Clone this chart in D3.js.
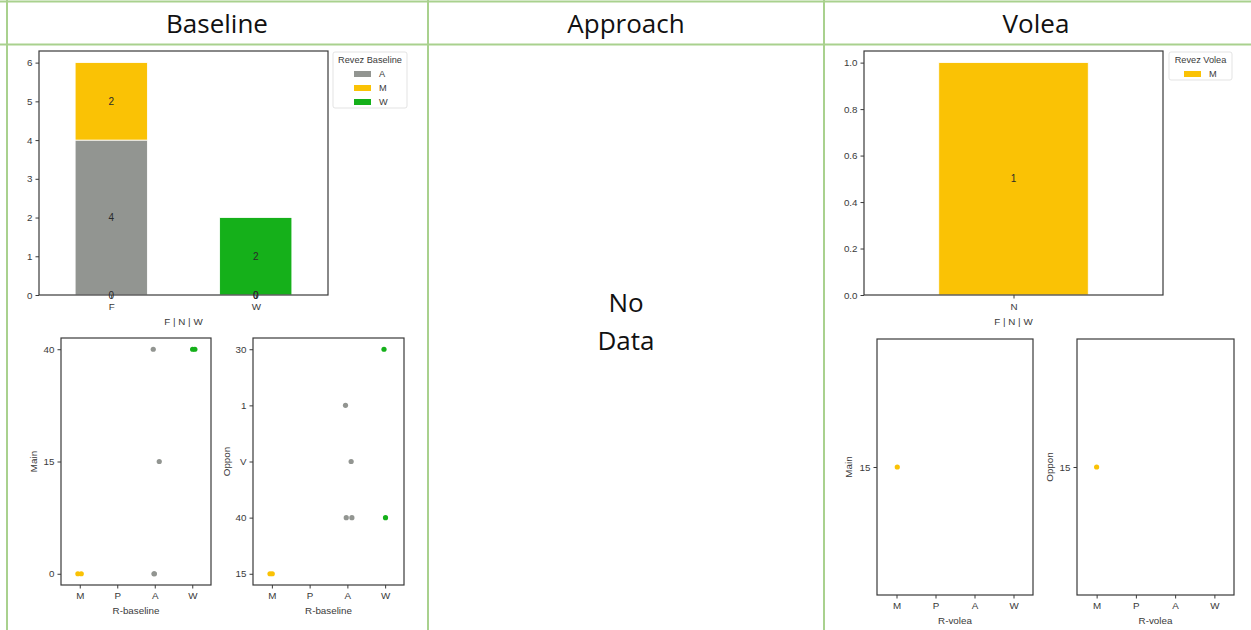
<!DOCTYPE html>
<html>
<head>
<meta charset="utf-8">
<script src="https://cdn.jsdelivr.net/npm/d3@7"></script>
<style>
  html, body { margin: 0; padding: 0; background: #fff; }
  svg { display: block; }
</style>
</head>
<body>
<svg id="chart" width="1251" height="630"></svg>
<script>
// ---------------- DATA ----------------
const columnTitles = ["Baseline", "Approach", "Volea"];
const noDataText = ["No", "Data"];

// Baseline stacked bar
const baselineCats = ["F", "W"];
const baselineSeries = ["A", "M", "W"];
const baselineA = [4, 0];
const baselineM = [2, 0];
const baselineW = [0, 2];
const baselineYTicks = [0, 1, 2, 3, 4, 5, 6];

// Volea bar
const voleaCats = ["N"];
const voleaSeries = ["M"];
const voleaM = [1];
const voleaYTicks = [0, 0.2, 0.4, 0.6, 0.8, 1.0];

// Scatter categories
const rCats = ["M", "P", "A", "W"];
const baseMainCats = ["0", "15", "40"];
const baseOpponCats = ["15", "40", "V", "1", "30"];
const voleaMainCats = ["15"];
const voleaOpponCats = ["15"];

// Baseline points (R-baseline, Main, Oppon) + jitter
const baseR      = ["M", "M", "A", "A", "A", "A", "W", "W"];
const baseMain   = ["0", "0", "40", "15", "0", "0", "40", "40"];
const baseOppon  = ["15", "15", "1", "V", "40", "40", "30", "40"];
const baseMainJit  = [-0.05, 0.04, -0.04, 0.12, -0.02, -0.01, 0.01, 0.07];
const baseOpponJit = [-0.05, 0.01, -0.05, 0.10, -0.03, 0.12, -0.03, 0.01];

// Volea points
const voleaR = ["M"];
const voleaMain = ["15"];
const voleaOppon = ["15"];
const voleaMainJit = [0.02];
const voleaOpponJit = [0.0];

// ---------------- STYLE ----------------
const colors = { A: "#929591", M: "#fac205", W: "#15b01a" };
const gridGreen = "#a9d18e";
const axisColor = "#3a3a3a";
const textColor = "#3a3a3a";
const FONT = "'Liberation Sans', Arial, sans-serif";
const HFONT = "'Open Sans', 'Noto Sans', sans-serif";
const HSIZE = 26;

const svg = d3.select("#chart");

// ---------------- TABLE ----------------
const colX = [7, 428, 824, 1260];
const titleX = [217, 626, 1036];
const headerTop = 1.5, headerBottom = 44.5;
const table = svg.append("g");
[headerTop, headerBottom].forEach(y => table.append("line")
  .attr("x1", 0).attr("x2", 1251).attr("y1", y).attr("y2", y)
  .attr("stroke", gridGreen).attr("stroke-width", 2));
colX.forEach(x => table.append("line")
  .attr("x1", x).attr("x2", x).attr("y1", 0).attr("y2", 630)
  .attr("stroke", gridGreen).attr("stroke-width", 2));
columnTitles.forEach((t, i) => table.append("text")
  .attr("x", titleX[i]).attr("y", 23).attr("text-anchor", "middle").attr("dominant-baseline", "central")
  .attr("font-family", HFONT).attr("font-size", HSIZE).attr("fill", "#111").text(t));
noDataText.forEach((t, i) => table.append("text")
  .attr("x", 626).attr("y", 302 + i * 38).attr("text-anchor", "middle")
  .attr("dominant-baseline", "central")
  .attr("font-family", HFONT).attr("font-size", HSIZE).attr("fill", "#111").text(t));

// ---------------- HELPERS ----------------
function frame(g, x0, x1, y0, y1) {
  g.append("rect").attr("x", x0).attr("y", y0).attr("width", x1 - x0).attr("height", y1 - y0)
    .attr("fill", "none").attr("stroke", axisColor).attr("stroke-width", 1.2);
}
function styleAxis(sel) {
  sel.select(".domain").remove();
  sel.selectAll(".tick line").attr("stroke", axisColor).attr("stroke-width", 1);
  sel.selectAll(".tick text").attr("fill", textColor).attr("font-family", FONT).attr("font-size", 9.8);
}

function stackedBar(opts) {
  const { x0, x1, y0, y1, cats, series, values, yMax, yTicks, fmt, xlabel, legend } = opts;
  const g = svg.append("g");
  const x = d3.scaleLinear().domain([-0.5, cats.length - 0.5]).range([x0, x1]);
  const y = d3.scaleLinear().domain([0, yMax]).range([y1, y0]);
  const rows = cats.map((c, i) => {
    const o = { cat: c, idx: i };
    series.forEach((s, k) => o[s] = values[k][i]);
    return o;
  });
  const stack = d3.stack().keys(series)(rows);
  stack.forEach(layer => {
    g.selectAll(null).data(layer).join("rect")
      .attr("x", d => x(d.data.idx - 0.25))
      .attr("width", d => x(0.5) - x(0))
      .attr("y", d => y(d[1]))
      .attr("height", d => y(d[0]) - y(d[1]))
      .attr("fill", colors[layer.key])
      .attr("stroke", "#fff").attr("stroke-width", 0.8);
  });
  frame(g, x0, x1, y0, y1);
  const ya = g.append("g").attr("transform", `translate(${x0},0)`)
    .call(d3.axisLeft(y).tickValues(yTicks).tickFormat(fmt).tickSize(3.5).tickPadding(3));
  styleAxis(ya);
  const xa = g.append("g").attr("transform", `translate(0,${y1})`)
    .call(d3.axisBottom(x).tickValues(cats.map((c, i) => i)).tickFormat(i => cats[i]).tickSize(3.5).tickPadding(5));
  styleAxis(xa);
  g.append("text").attr("x", (x0 + x1) / 2).attr("y", y1 + 26).attr("text-anchor", "middle")
    .attr("dominant-baseline", "central").attr("font-family", FONT).attr("font-size", 9.8)
    .attr("fill", textColor).text(xlabel);
  // segment labels (zero-height segments are labelled at the baseline)
  stack.forEach(layer => {
    layer.forEach(d => {
      const v = d[1] - d[0];
      const yy = v > 0 ? (d[0] + d[1]) / 2 : 0;
      g.append("text").attr("x", x(d.data.idx)).attr("y", y(yy))
        .attr("text-anchor", "middle").attr("dominant-baseline", "central")
        .attr("font-family", FONT).attr("font-size", 10).attr("fill", "#2a2a2a").text(v);
    });
  });
  // legend
  const lg = g.append("g");
  lg.append("rect").attr("x", legend.x).attr("y", legend.y).attr("width", legend.w)
    .attr("height", 14 + series.length * 14).attr("rx", 2)
    .attr("fill", "#fff").attr("stroke", "#dcdcdc").attr("stroke-width", 0.8);
  lg.append("text").attr("x", legend.x + legend.w / 2).attr("y", legend.y + 8).attr("text-anchor", "middle")
    .attr("dominant-baseline", "central").attr("font-family", FONT).attr("font-size", 9.2)
    .attr("fill", textColor).text(legend.title);
  series.forEach((s, k) => {
    const cy = legend.y + 22 + k * 14;
    lg.append("rect").attr("x", legend.px).attr("y", cy - 3).attr("width", 17).attr("height", 6)
      .attr("fill", colors[s]);
    lg.append("text").attr("x", legend.px + 25).attr("y", cy).attr("dominant-baseline", "central")
      .attr("font-family", FONT).attr("font-size", 9.2).attr("fill", textColor).text(s);
  });
}

function strip(opts) {
  const { x0, x1, y0, y1, yCats, rVals, yVals, jit, ylabel, xlabel } = opts;
  const g = svg.append("g");
  const x = d3.scaleLinear().domain([-0.5, rCats.length - 0.5]).range([x0, x1]);
  const n = yCats.length;
  const m = n > 1 ? 0.05 * (n - 1) : 0.5;
  const y = d3.scaleLinear().domain([-m, n - 1 + m]).range([y1, y0]);
  frame(g, x0, x1, y0, y1);
  const ya = g.append("g").attr("transform", `translate(${x0},0)`)
    .call(d3.axisLeft(y).tickValues(yCats.map((c, i) => i)).tickFormat(i => yCats[i]).tickSize(3.5).tickPadding(3));
  styleAxis(ya);
  const xa = g.append("g").attr("transform", `translate(0,${y1})`)
    .call(d3.axisBottom(x).tickValues(rCats.map((c, i) => i)).tickFormat(i => rCats[i]).tickSize(3.5).tickPadding(4));
  styleAxis(xa);
  g.append("text").attr("x", (x0 + x1) / 2).attr("y", y1 + 25).attr("text-anchor", "middle")
    .attr("dominant-baseline", "central").attr("font-family", FONT).attr("font-size", 9.8)
    .attr("fill", textColor).text(xlabel);
  g.append("text").attr("transform", `translate(${opts.ylx},${(y0 + y1) / 2}) rotate(-90)`)
    .attr("text-anchor", "middle").attr("dominant-baseline", "central")
    .attr("font-family", FONT).attr("font-size", 9.8).attr("fill", textColor).text(ylabel);
  const pts = rVals.map((r, i) => ({ r, yv: yVals[i], j: jit[i] }));
  g.selectAll("circle").data(pts).join("circle")
    .attr("cx", d => x(rCats.indexOf(d.r) + d.j))
    .attr("cy", d => y(yCats.indexOf(d.yv)))
    .attr("r", 2.6)
    .attr("fill", d => colors[d.r]);
}

// ---------------- CHARTS ----------------
stackedBar({
  x0: 39, x1: 328, y0: 51, y1: 295,
  cats: baselineCats, series: baselineSeries, values: [baselineA, baselineM, baselineW],
  yMax: 6.3, yTicks: baselineYTicks, fmt: d3.format("d"), xlabel: "F | N | W",
  legend: { x: 333, y: 52, w: 74, px: 354, title: "Revez Baseline" }
});
stackedBar({
  x0: 864, x1: 1163, y0: 51, y1: 295,
  cats: voleaCats, series: voleaSeries, values: [voleaM],
  yMax: 1.05, yTicks: voleaYTicks, fmt: d3.format(".1f"), xlabel: "F | N | W",
  legend: { x: 1169, y: 52, w: 63, px: 1184, title: "Revez Volea" }
});

strip({ x0: 61, x1: 211, y0: 338, y1: 585, yCats: baseMainCats, rVals: baseR, yVals: baseMain,
  jit: baseMainJit, ylabel: "Main", xlabel: "R-baseline", ylx: 33 });
strip({ x0: 253, x1: 404, y0: 338, y1: 585, yCats: baseOpponCats, rVals: baseR, yVals: baseOppon,
  jit: baseOpponJit, ylabel: "Oppon", xlabel: "R-baseline", ylx: 226 });
strip({ x0: 877, x1: 1033, y0: 339, y1: 595, yCats: voleaMainCats, rVals: voleaR, yVals: voleaMain,
  jit: voleaMainJit, ylabel: "Main", xlabel: "R-volea", ylx: 848 });
strip({ x0: 1077, x1: 1234, y0: 339, y1: 595, yCats: voleaOpponCats, rVals: voleaR, yVals: voleaOppon,
  jit: voleaOpponJit, ylabel: "Oppon", xlabel: "R-volea", ylx: 1049 });
</script>
</body>
</html>
